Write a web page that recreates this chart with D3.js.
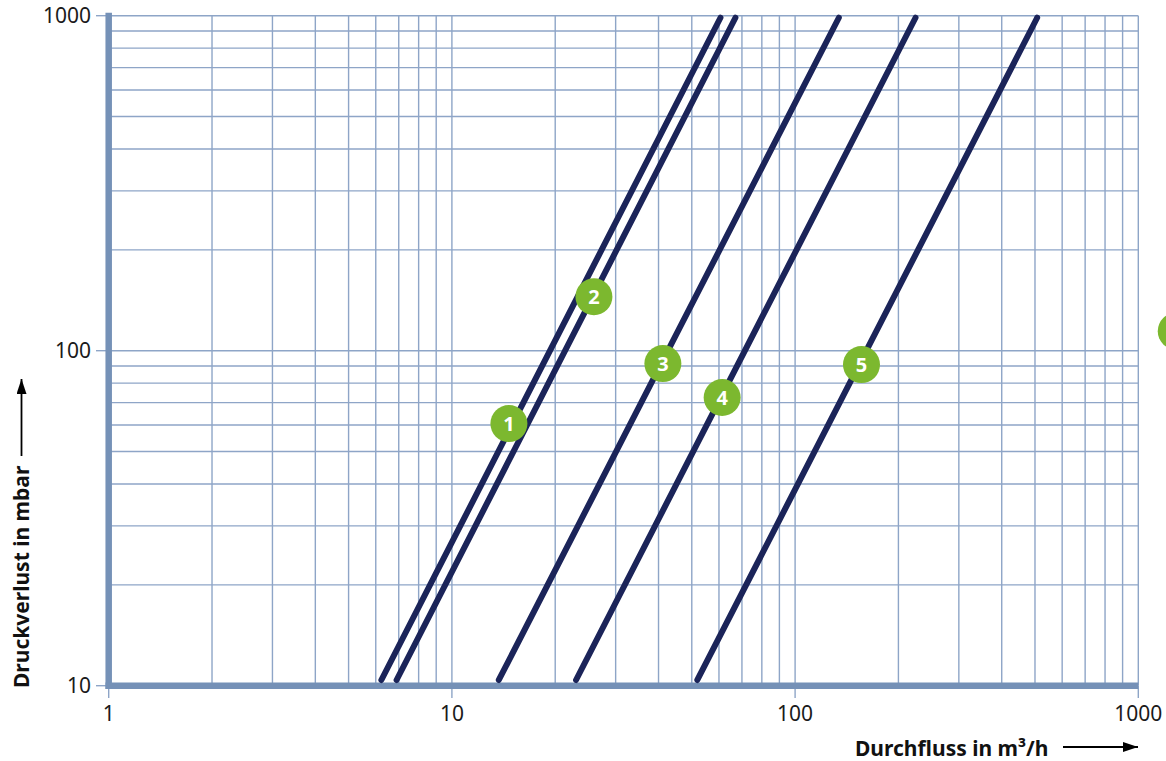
<!DOCTYPE html>
<html><head><meta charset="utf-8">
<script src="https://cdn.jsdelivr.net/npm/d3@7"></script>
<style>
html,body{margin:0;padding:0;background:#fff;}
svg{display:block;font-family:"Noto Sans","Open Sans",sans-serif;}
</style></head>
<body>
<script>
// ---- data ----
const xTickLabels = [1, 10, 100, 1000];
const yTickLabels = [10, 100, 1000];
const seriesNames = ["1", "2", "3", "4", "5"];
// each curve: [flow m³/h, pressure mbar] at the two ends
const curve1 = [[6.23, 10.4], [60.6, 986]];
const curve2 = [[6.90, 10.4], [67.0, 986]];
const curve3 = [[13.7, 10.4], [134.1, 986]];
const curve4 = [[23.0, 10.4], [224.3, 986]];
const curve5 = [[51.9, 10.4], [507.3, 986]];
const curves = [curve1, curve2, curve3, curve4, curve5];
// label badge positions [flow, pressure]
const labelNames = ["1", "2", "3", "4", "5", ""];
const labelPos = [[14.66, 60.6], [25.93, 144.9], [41.18, 91.5], [61.3, 72.5], [156.1, 90.9], [1290, 114.4]];

const W = 1166, H = 761;
const svg = d3.select("body").append("svg").attr("width", W).attr("height", H);

const x = d3.scaleLog().domain([1, 1000]).range([108.7, 1138.3]);
const y = d3.scaleLog().domain([10, 1000]).range([685.7, 15.7]);

const gridColor = "#8ea5c7";
const axisColor = "#7591b7";

// grid values
const gx = [], gy = [];
[1, 10, 100].forEach(d => { for (let k = 1; k <= 9; k++) gx.push(d * k); });
gx.push(1000);
[10, 100].forEach(d => { for (let k = 1; k <= 9; k++) gy.push(d * k); });
gy.push(1000);

const grid = svg.append("g");
grid.selectAll("line.v").data(gx.filter(v => v > 1)).join("line")
  .attr("x1", d => x(d)).attr("x2", d => x(d))
  .attr("y1", y(1000)).attr("y2", y(10))
  .attr("stroke", gridColor).attr("stroke-width", 1.4);
grid.selectAll("line.h").data(gy.filter(v => v > 10)).join("line")
  .attr("y1", d => y(d)).attr("y2", d => y(d))
  .attr("x1", x(1)).attr("x2", x(1000))
  .attr("stroke", gridColor).attr("stroke-width", 1.4);

// tick marks outside
const ticks = svg.append("g");
ticks.selectAll("line.yt").data(yTickLabels).join("line")
  .attr("x1", 96).attr("x2", x(1)).attr("y1", d => y(d)).attr("y2", d => y(d))
  .attr("stroke", gridColor).attr("stroke-width", 1.4);
ticks.selectAll("line.xt").data(xTickLabels).join("line")
  .attr("x1", d => x(d)).attr("x2", d => x(d)).attr("y1", y(10)).attr("y2", 698)
  .attr("stroke", gridColor).attr("stroke-width", 1.4);

// thick axes
svg.append("line").attr("x1", x(1)).attr("x2", x(1)).attr("y1", 12.7).attr("y2", 689)
  .attr("stroke", axisColor).attr("stroke-width", 6.5);
svg.append("line").attr("x1", 105.5).attr("x2", x(1000)).attr("y1", y(10)).attr("y2", y(10))
  .attr("stroke", axisColor).attr("stroke-width", 6.5);

// tick labels
svg.append("g").selectAll("text").data(yTickLabels).join("text")
  .attr("x", 91).attr("y", d => y(d)).attr("dy", "0.36em")
  .attr("text-anchor", "end").attr("font-size", 21).attr("fill", "#1a1a1a")
  .text(d => d);
svg.append("g").selectAll("text").data(xTickLabels).join("text")
  .attr("x", d => x(d)).attr("y", 713).attr("dy", "0.36em")
  .attr("text-anchor", "middle").attr("font-size", 21).attr("fill", "#1a1a1a")
  .text(d => d);

// curves
const line = d3.line().x(d => x(d[0])).y(d => y(d[1]));
svg.append("g").selectAll("path").data(curves).join("path")
  .attr("d", line).attr("fill", "none").attr("stroke", "#1b2459")
  .attr("stroke-width", 6).attr("stroke-linecap", "round");

// badges
const badges = svg.append("g").selectAll("g").data(labelPos).join("g")
  .attr("transform", d => `translate(${x(d[0])},${y(d[1])})`);
badges.append("circle").attr("r", 18.5).attr("fill", "#7cb82f");
badges.filter((d, i) => labelNames[i] !== "").append("text")
  .attr("text-anchor", "middle").attr("dy", "0.36em")
  .attr("fill", "#fff").attr("font-weight", "bold").attr("font-size", 20)
  .text((d, i) => labelNames[labelPos.indexOf(d)]);

// arrows
const defs = svg.append("defs");
defs.append("marker").attr("id", "ah").attr("viewBox", "0 0 15 10")
  .attr("refX", 15).attr("refY", 5).attr("markerWidth", 15).attr("markerHeight", 10)
  .attr("markerUnits", "userSpaceOnUse").attr("orient", "auto")
  .append("path").attr("d", "M0,0 L15,5 L0,10 Z").attr("fill", "#000");

svg.append("text").attr("x", 855).attr("y", 748).attr("dy", "0.36em")
  .attr("font-weight", "bold").attr("font-size", 21).attr("fill", "#111")
  .text("Durchfluss in m³/h");
svg.append("line").attr("x1", 1063).attr("x2", 1138).attr("y1", 747).attr("y2", 747)
  .attr("stroke", "#000").attr("stroke-width", 1.8).attr("marker-end", "url(#ah)");

svg.append("text").attr("transform", "translate(21,688) rotate(-90)").attr("dy", "0.36em")
  .attr("font-weight", "bold").attr("font-size", 21).attr("fill", "#111")
  .text("Druckverlust in mbar");
svg.append("line").attr("x1", 21.5).attr("x2", 21.5).attr("y1", 456).attr("y2", 379)
  .attr("stroke", "#000").attr("stroke-width", 1.8).attr("marker-end", "url(#ah)");
</script>
</body></html>
